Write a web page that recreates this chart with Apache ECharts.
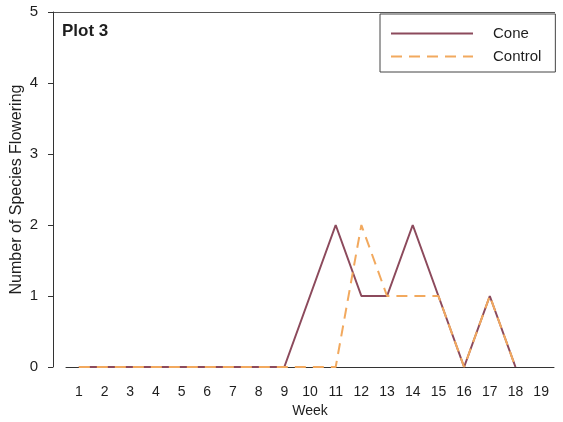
<!DOCTYPE html>
<html>
<head>
<meta charset="utf-8">
<script src="https://cdn.jsdelivr.net/npm/echarts@6/dist/echarts.min.js"></script>
<style>
  html, body { margin: 0; padding: 0; background: #fff; }
  #chart { width: 563px; height: 422px; }
</style>
</head>
<body>
<div id="chart"></div>
<script>
// Weekly counts of flowering species, plot 3
const weeks = ['1','2','3','4','5','6','7','8','9','10','11','12','13','14','15','16','17','18','19'];
const cone    = [0, 0, 0, 0, 0, 0, 0, 0, 0, 1, 2, 1, 1, 2, 1, 0, 1, 0, null];
const control = [0, 0, 0, 0, 0, 0, 0, 0, 0, 0, 0, 2, 1, 1, 1, 0, 1, 0, null];
const yTicks  = [0, 1, 2, 3, 4, 5];

const FONT = 'Liberation Sans, Arial, sans-serif';
const AXIS = '#333';
const TEXT = '#1e1e1e';
const gridLeft = 66, gridRight = 9, gridTop = 12, gridBottom = 55;
const yOffset = 13;

const chart = echarts.init(document.getElementById('chart'), null, { renderer: 'canvas' });
chart.setOption({
  animation: false,
  backgroundColor: '#fff',
  title: {
    text: 'Plot 3',
    left: 57, top: 18,
    textStyle: { fontFamily: FONT, fontSize: 17, fontWeight: 'bold', color: TEXT }
  },
  legend: {
    orient: 'vertical',
    left: 380, top: 14,
    padding: [12, 14, 8, 10],
    itemWidth: 82, itemHeight: 14,
    itemGap: 8,
    borderColor: '#444', borderWidth: 1, borderRadius: 0,
    itemStyle: { opacity: 0 },
    textStyle: { fontFamily: FONT, fontSize: 15, color: TEXT, padding: [0, 0, 0, 15] },
    data: ['Cone', 'Control']
  },
  grid: {
    left: gridLeft, right: gridRight, top: gridTop, bottom: gridBottom,
    containLabel: false,
    outerBoundsMode: 'none'
  },
  xAxis: {
    type: 'category',
    data: weeks,
    boundaryGap: true,
    name: 'Week',
    nameLocation: 'middle',
    nameGap: 37,
    nameTextStyle: { fontFamily: FONT, fontSize: 14, color: TEXT },
    axisLine: { lineStyle: { color: AXIS, width: 1 } },
    axisTick: { alignWithLabel: true, length: 4, lineStyle: { color: AXIS } },
    axisLabel: { fontFamily: FONT, fontSize: 14, color: TEXT, margin: 18, interval: 0 },
    splitLine: { show: false }
  },
  yAxis: {
    type: 'value',
    min: yTicks[0], max: yTicks[yTicks.length - 1], interval: 1,
    offset: yOffset,
    name: 'Number of Species Flowering',
    nameLocation: 'middle',
    nameGap: 28,
    nameMoveOverlap: false,
    nameTextStyle: { fontFamily: FONT, fontSize: 16, color: TEXT },
    axisLine: { show: true, lineStyle: { color: AXIS, width: 1 } },
    axisTick: { show: true, length: 5, lineStyle: { color: AXIS } },
    axisLabel: { fontFamily: FONT, fontSize: 15, color: TEXT, margin: 15 },
    splitLine: { show: false }
  },
  graphic: [{
    type: 'line',
    silent: true,
    shape: { x1: gridLeft - yOffset - 1, y1: gridTop + 0.5, x2: 563 - gridRight + 1, y2: gridTop + 0.5 },
    style: { stroke: '#555', lineWidth: 1 }
  }],
  series: [
    {
      name: 'Cone',
      type: 'line',
      data: cone,
      symbol: 'none',
      z: 2,
      lineStyle: { color: '#8c4a5c', width: 2 },
      itemStyle: { color: '#8c4a5c' }
    },
    {
      name: 'Control',
      type: 'line',
      data: control,
      symbol: 'none',
      z: 3,
      lineStyle: { color: '#f2a95e', width: 2, type: [11, 7] },
      itemStyle: { color: '#f2a95e' }
    }
  ]
});
</script>
</body>
</html>
